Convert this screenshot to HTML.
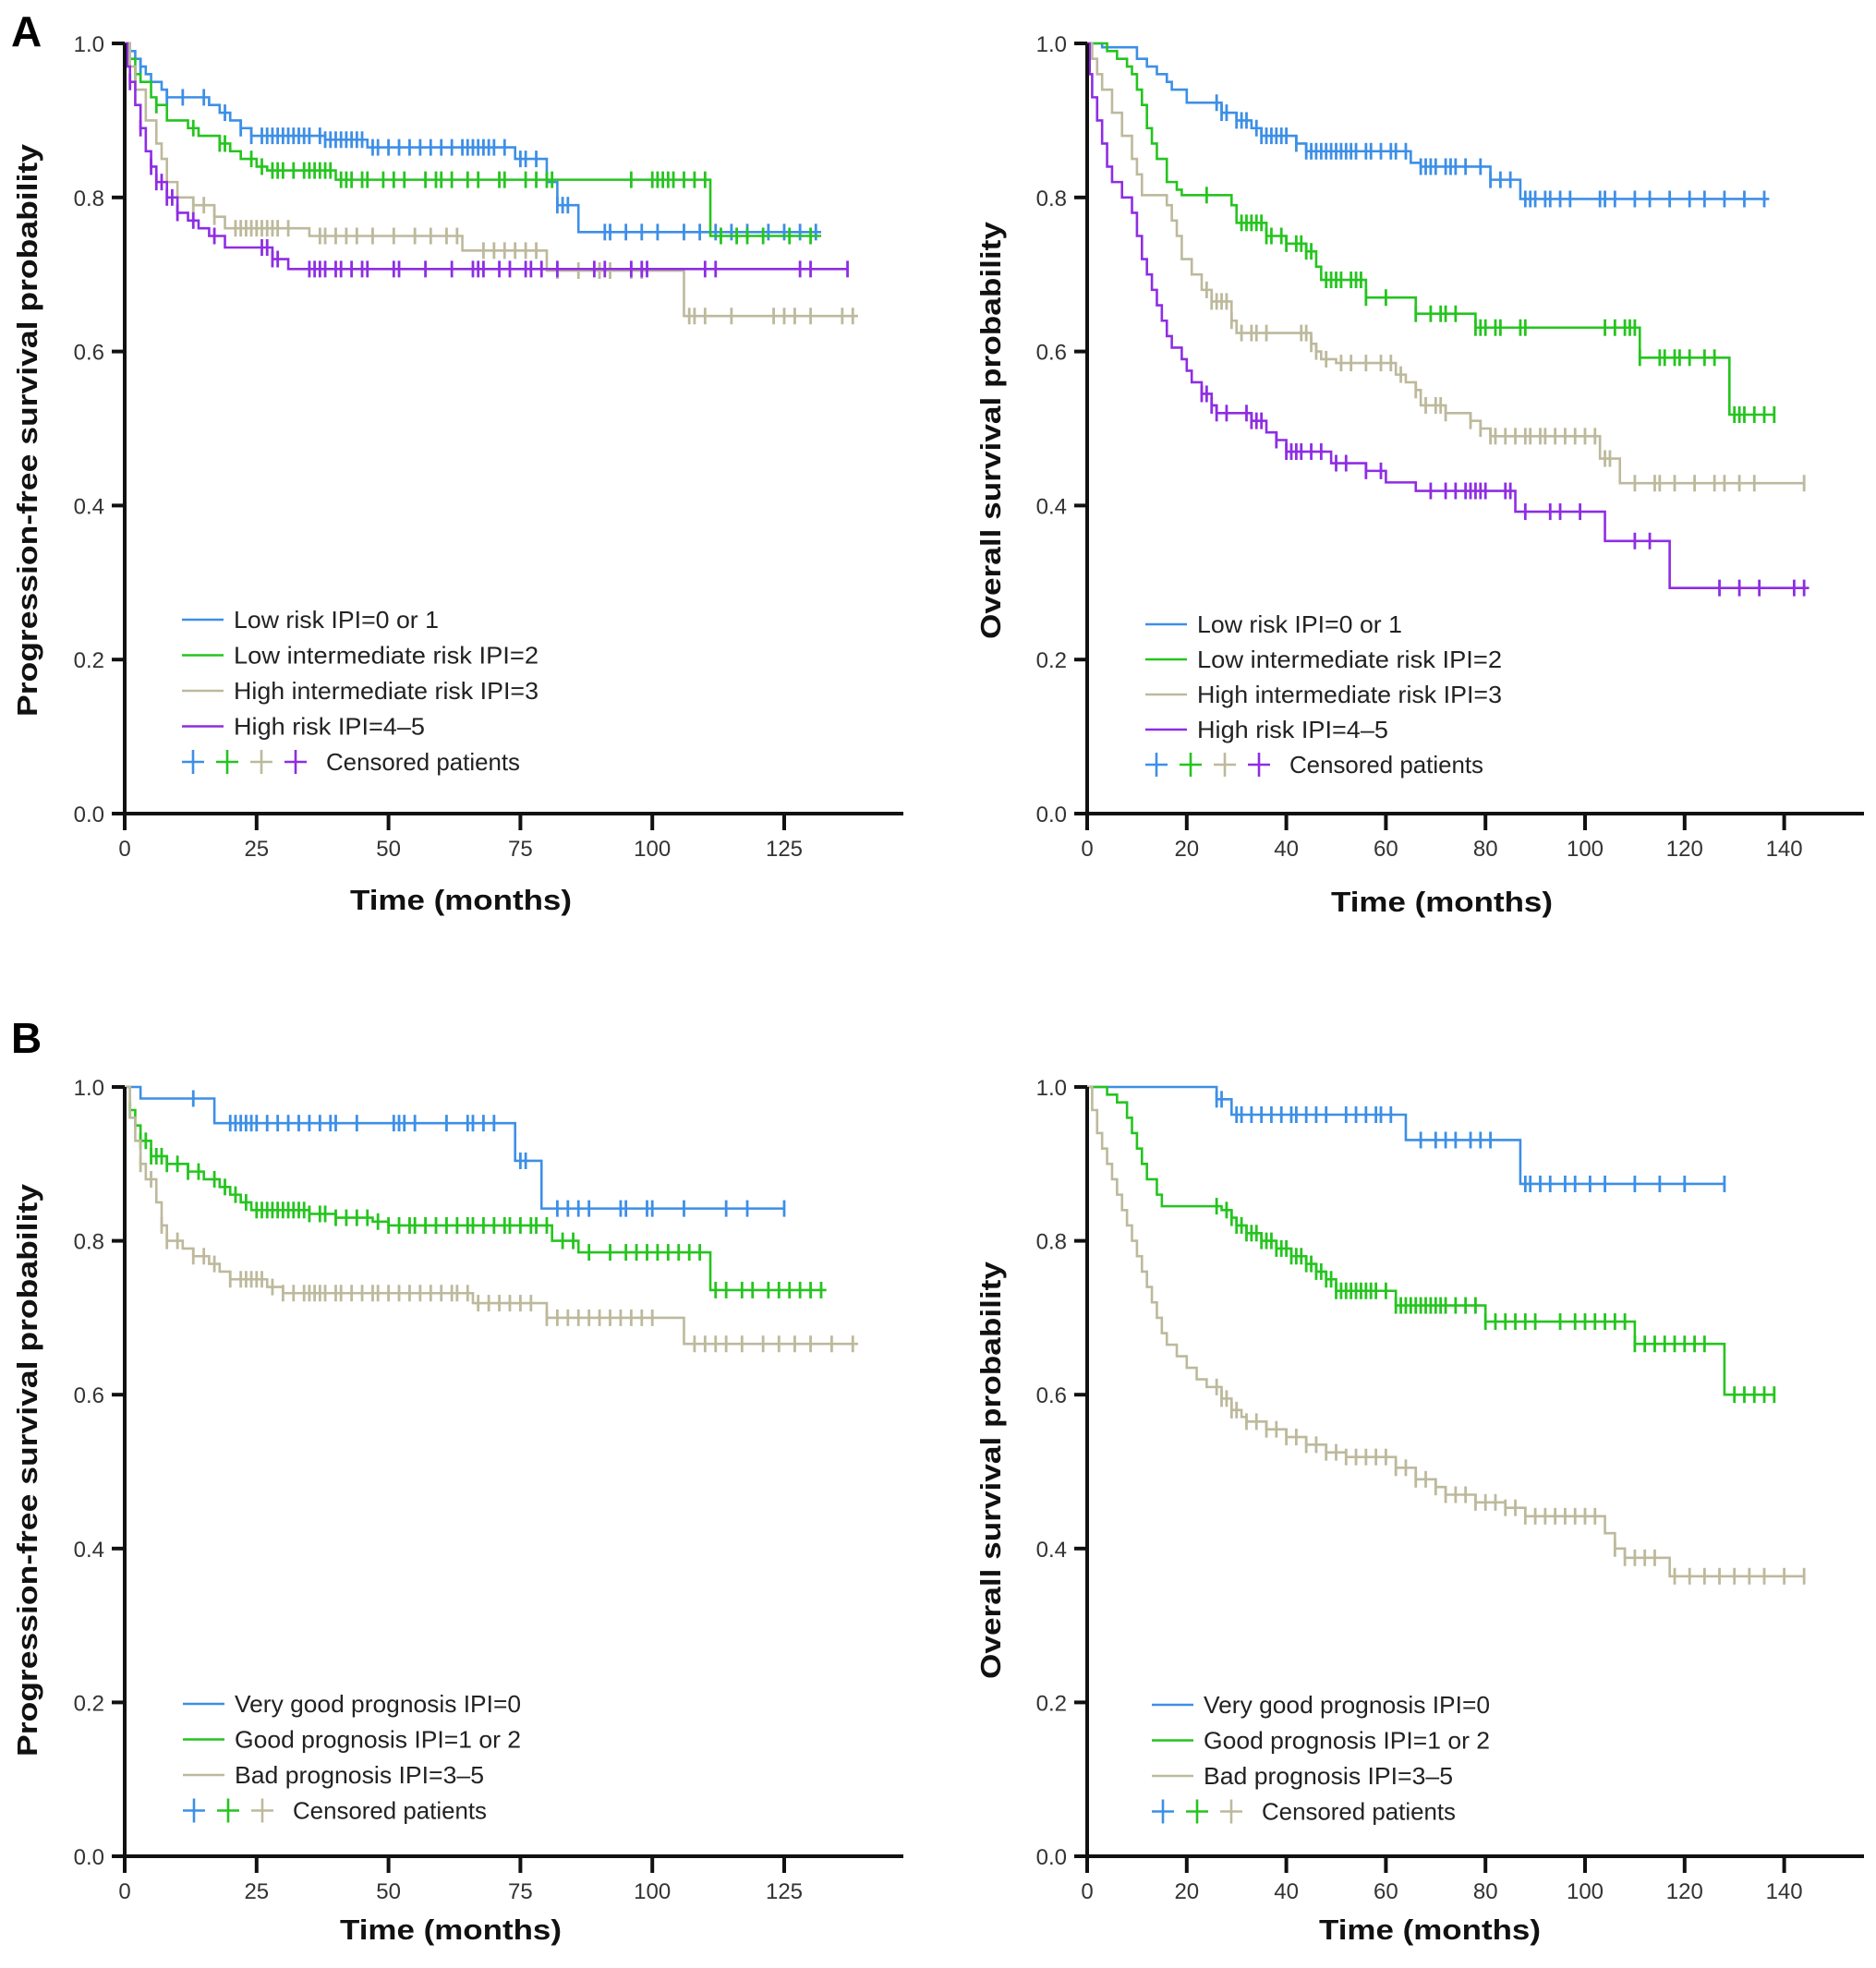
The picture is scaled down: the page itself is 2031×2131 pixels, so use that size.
<!DOCTYPE html>
<html><head><meta charset="utf-8"><style>
html,body{margin:0;padding:0;background:#fff}
svg{display:block}
text{font-family:"Liberation Sans",sans-serif}
.tk{font-size:24px;fill:#333}
.ttl{font-size:31px;font-weight:bold;fill:#111}
.lg{font-size:26px;fill:#222}
.pl{font-size:46px;font-weight:bold;fill:#000}
</style></head><body>
<svg id="fig" width="2031" height="2131" viewBox="0 0 2031 2131">
<text class="pl" x="12" y="50">A</text>
<text class="pl" x="12" y="1140">B</text>
</svg>
<script>
// ---------- data: [time(months), survival] step points ----------
const aPfsLow=[[0,1],[1,0.99],[2,0.98],[3,0.97],[4,0.96],[5,0.95],[7,0.94],[8,0.93],[16,0.92],[18,0.91],[20,0.9],[22,0.89],[24,0.88],[38,0.875],[46,0.865],[74,0.85],[80,0.82],[82,0.79],[86,0.755]];
const aPfsLowEnd=132;
const aPfsLowCens=[3,8,11,15,19,22,24,26,27,28,29,30,31,32,33,34,35,37,38,39,40,41,42,43,44,45,47,48,50,52,54,56,58,60,62,64,65,66,67,68,69,70,72,75,76,78,82,83,84,91,92,95,98,101,106,109,112,115,118,122,125,128,131];
const aPfsLint=[[0,1],[1,0.98],[2,0.96],[3,0.95],[5,0.93],[6,0.92],[8,0.9],[12,0.89],[14,0.88],[18,0.87],[20,0.86],[22,0.85],[25,0.84],[27,0.835],[40,0.823],[111,0.75]];
const aPfsLintEnd=132;
const aPfsLintCens=[2,6,13,18,19,24,26,28,29,30,32,34,35,36,37,38,39,41,42,43,45,46,49,51,53,57,59,60,62,65,67,71,72,76,78,80,81,96,100,101,102,103,104,106,108,110,113,116,118,121,126,130];
const aPfsHint=[[0,1],[1,0.97],[2,0.94],[4,0.9],[6,0.87],[7,0.85],[8,0.82],[10,0.8],[13,0.79],[17,0.775],[19,0.76],[35,0.75],[64,0.731],[80,0.705],[106,0.646]];
const aPfsHintEnd=139;
const aPfsHintCens=[13,15,17,21,22,23,24,25,26,27,28,29,31,37,38,40,42,44,47,51,55,58,61,63,68,70,72,74,76,78,82,86,90,92,96,98,107,108,110,115,123,125,127,130,136,138];
const aPfsHigh=[[0,1],[0.5,0.97],[1,0.95],[2,0.92],[3,0.89],[4,0.86],[5,0.84],[6,0.82],[8,0.8],[10,0.78],[12,0.77],[14,0.76],[16,0.75],[19,0.735],[28,0.72],[31,0.707]];
const aPfsHighEnd=137;
const aPfsHighCens=[1,3,5,6,7,8,9,10,13,17,26,27,28,29,35,36,37,38,40,41,43,45,46,51,52,57,62,66,67,68,71,73,76,77,79,82,89,91,96,98,99,110,112,128,130,137];

const aOsLow=[[0,1],[3,0.995],[10,0.98],[12,0.97],[14,0.96],[16,0.95],[17,0.94],[20,0.923],[27,0.91],[30,0.9],[33,0.89],[35,0.88],[42,0.87],[44,0.86],[65,0.845],[67,0.84],[81,0.823],[87,0.798]];
const aOsLowEnd=137;
const aOsLowCens=[26,27,28,30,31,32,34,35,36,37,38,39,40,42,44,45,46,47,48,49,50,51,52,53,54,56,57,59,61,62,64,67,68,69,70,72,73,74,76,79,81,83,85,88,89,90,92,93,95,97,103,104,106,110,113,117,121,124,128,132,136];
const aOsLint=[[0,1],[4,0.99],[6,0.98],[8,0.97],[9,0.96],[10,0.94],[11,0.92],[12,0.89],[13,0.87],[14,0.85],[16,0.82],[18,0.81],[19,0.803],[29,0.79],[30,0.767],[36,0.75],[40,0.74],[44,0.73],[46,0.71],[47,0.693],[56,0.67],[66,0.649],[78,0.631],[111,0.592],[129,0.518]];
const aOsLintEnd=138;
const aOsLintCens=[24,31,32,33,34,35,36,37,39,40,42,43,44,45,48,49,50,51,53,54,55,56,60,66,69,71,72,74,78,79,80,82,83,87,88,104,106,108,109,110,111,115,116,118,119,121,124,126,130,131,132,134,136,138];
const aOsHint=[[0,1],[1,0.98],[2,0.96],[3,0.94],[5,0.91],[7,0.88],[9,0.85],[10,0.83],[11,0.803],[16,0.79],[17,0.77],[18,0.75],[19,0.72],[21,0.7],[23,0.68],[25,0.665],[29,0.64],[30,0.624],[45,0.61],[46,0.6],[47,0.59],[50,0.585],[62,0.57],[64,0.56],[66,0.55],[67,0.53],[72,0.52],[77,0.51],[79,0.5],[81,0.49],[103,0.461],[107,0.429]];
const aOsHintEnd=144;
const aOsHintCens=[24,25,26,27,28,29,31,33,34,36,43,44,45,46,48,51,53,56,59,61,63,66,68,70,71,72,77,79,81,82,84,86,88,89,91,92,94,96,98,100,102,104,105,110,114,115,118,122,126,128,131,134,144];
const aOsHigh=[[0,1],[0.5,0.96],[1,0.93],[2,0.9],[3,0.87],[4,0.84],[5,0.82],[7,0.8],[9,0.78],[10,0.75],[11,0.72],[12,0.7],[13,0.68],[14,0.66],[15,0.64],[16,0.62],[17,0.605],[19,0.59],[20,0.575],[21,0.56],[23,0.545],[25,0.53],[26,0.52],[33,0.51],[36,0.495],[38,0.485],[40,0.47],[49,0.455],[56,0.445],[60,0.43],[66,0.419],[86,0.392],[104,0.354],[117,0.293]];
const aOsHighEnd=145;
const aOsHighCens=[23,24,25,26,28,32,33,34,35,38,40,41,42,43,45,47,50,52,56,59,69,72,74,76,77,78,79,80,84,85,88,93,95,99,110,113,127,131,135,142,144];

const bPfsVg=[[0,1],[3,0.985],[17,0.953],[74,0.904],[79,0.842]];
const bPfsVgEnd=125;
const bPfsVgCens=[13,20,21,22,23,24,25,27,29,31,33,35,37,39,40,44,51,52,53,55,61,65,66,68,70,75,76,82,84,86,88,94,95,99,100,106,114,118,125];
const bPfsG=[[0,1],[1,0.97],[2,0.95],[3,0.93],[5,0.91],[8,0.9],[12,0.89],[15,0.88],[18,0.87],[20,0.86],[22,0.85],[24,0.84],[35,0.835],[40,0.83],[47,0.825],[50,0.82],[81,0.8],[86,0.785],[111,0.736]];
const bPfsGEnd=133;
const bPfsGCens=[1,3,4,5,6,7,8,10,12,14,17,19,21,23,25,26,27,28,29,30,31,32,33,34,35,37,38,40,42,44,46,48,50,52,54,55,57,59,61,63,65,66,68,70,72,73,75,77,78,80,83,85,88,92,95,97,99,101,103,105,107,109,112,114,117,119,122,124,126,128,130,132];
const bPfsB=[[0,1],[1,0.96],[2,0.93],[3,0.9],[4,0.88],[6,0.85],[7,0.82],[8,0.8],[11,0.79],[13,0.78],[16,0.77],[18,0.76],[20,0.75],[27,0.74],[30,0.732],[66,0.719],[80,0.7],[106,0.666]];
const bPfsBEnd=139;
const bPfsBCens=[3,5,7,8,10,13,15,17,20,22,23,24,25,26,28,30,32,34,35,36,37,38,40,41,43,45,47,48,50,52,54,56,58,60,62,63,65,67,69,71,73,75,77,80,82,84,86,88,90,92,94,96,98,100,108,110,112,114,117,121,124,127,130,134,138];

const bOsVg=[[0,1],[26,0.984],[29,0.964],[64,0.931],[87,0.874]];
const bOsVgEnd=128;
const bOsVgCens=[26,27,30,31,33,35,37,39,41,42,44,46,48,52,54,56,58,59,61,67,70,72,74,77,79,81,88,89,91,93,96,98,101,104,110,115,120,128];
const bOsG=[[0,1],[4,0.99],[6,0.98],[8,0.96],[9,0.94],[10,0.92],[11,0.9],[12,0.88],[14,0.86],[15,0.845],[27,0.84],[29,0.83],[30,0.82],[32,0.81],[35,0.8],[38,0.79],[41,0.78],[44,0.77],[46,0.76],[48,0.75],[50,0.735],[62,0.716],[80,0.695],[110,0.666],[128,0.6]];
const bOsGEnd=138;
const bOsGCens=[26,28,29,30,31,32,33,34,35,36,37,38,39,40,41,42,43,44,45,46,47,48,49,50,51,52,53,54,55,56,57,58,60,62,63,64,65,66,67,68,69,70,71,72,74,76,78,80,82,84,86,88,90,95,98,100,102,104,106,108,110,112,114,116,118,120,122,124,130,132,134,136,138];
const bOsB=[[0,1],[1,0.97],[2,0.94],[3,0.92],[4,0.9],[5,0.88],[6,0.86],[7,0.84],[8,0.82],[9,0.8],[10,0.78],[11,0.76],[12,0.74],[13,0.72],[14,0.7],[15,0.68],[16,0.665],[18,0.65],[20,0.635],[22,0.62],[24,0.61],[27,0.595],[29,0.58],[31,0.571],[32,0.565],[36,0.555],[40,0.545],[44,0.535],[48,0.525],[52,0.519],[62,0.505],[66,0.49],[70,0.48],[72,0.47],[78,0.46],[84,0.453],[88,0.442],[104,0.42],[106,0.4],[108,0.388],[117,0.364]];
const bOsBEnd=144;
const bOsBCens=[26,27,28,29,30,32,34,36,38,40,42,44,46,48,50,52,54,56,58,60,62,64,66,68,70,72,74,76,78,80,82,84,86,88,90,92,94,96,98,100,102,106,108,110,112,114,118,121,124,127,130,133,136,140,144];

const yTickVals=[0,0.2,0.4,0.6,0.8,1.0];
const yTickLabels=["0.0","0.2","0.4","0.6","0.8","1.0"];
const xTicksPfs=[0,25,50,75,100,125];
const xTicksOs=[0,20,40,60,80,100,120,140];

const legA=["Low risk IPI=0 or 1","Low intermediate risk IPI=2","High intermediate risk IPI=3","High risk IPI=4\u20135"];
const legB=["Very good prognosis IPI=0","Good prognosis IPI=1 or 2","Bad prognosis IPI=3\u20135"];

const C_BLUE="#3d8fe6",C_GREEN="#25c41f",C_BEIGE="#bdb99c",C_PURPLE="#8e2de3";
// ---------- drawing ----------
const NS="http://www.w3.org/2000/svg";
const svg=document.getElementById('fig');
function mk(tag,attrs,parent){const e=document.createElementNS(NS,tag);for(const k in attrs)e.setAttribute(k,attrs[k]);(parent||svg).appendChild(e);return e;}

function panel(p){
  const g=mk('g',{});
  
  
  const xs=t=>p.x0+t*p.sx;
  const ys=v=>p.y0-v*(p.y0-p.y1);
  p.series.forEach(s=>{
    let d="M"+xs(s.pts[0][0])+","+ys(s.pts[0][1]);
    for(let i=1;i<s.pts.length;i++){d+=" H"+xs(s.pts[i][0])+" V"+ys(s.pts[i][1]);}
    d+=" H"+xs(s.end);
    const path=mk('path',{d:d,fill:"none",stroke:s.color,"stroke-width":2.6},g);
    
    
    const cg=mk('g',{stroke:s.color,"stroke-width":2.8},g);
    
    
    s.cens.forEach(t=>{
      let v=s.pts[0][1];
      for(const q of s.pts){if(q[0]<=t)v=q[1];}
      const x=xs(t),y=ys(v);
      mk('line',{x1:x,x2:x,y1:y-9,y2:y+9},cg);
    });
  });
  const ax=mk('g',{stroke:"#111","stroke-width":4},g);
  
  
  mk('line',{x1:p.x0,x2:p.x0,y1:p.y1,y2:p.y0+2},ax);
  mk('line',{x1:p.x0-14,x2:p.xEnd,y1:p.y0,y2:p.y0},ax);
  yTickVals.forEach((v,i)=>{
    mk('line',{x1:p.x0-14,x2:p.x0,y1:ys(v),y2:ys(v)},ax);
    const t=mk('text',{class:"tk",x:p.x0-22,y:ys(v)+9,"text-anchor":"end"},g);
    t.textContent=yTickLabels[i];
    
    
  });
  p.xt.forEach(v=>{
    mk('line',{x1:xs(v),x2:xs(v),y1:p.y0,y2:p.y0+18},ax);
    const t=mk('text',{class:"tk",x:xs(v),y:p.y0+46,"text-anchor":"middle"},g);
    t.textContent=String(v);
    
    
  });
  const xt=mk('text',{class:"ttl",x:p.xtX,y:p.xtY,"text-anchor":"middle",textLength:240,lengthAdjust:"spacingAndGlyphs"},g);
  xt.textContent="Time (months)";
  
  
  const yt=mk('text',{class:"ttl",x:0,y:0,"text-anchor":"middle",textLength:p.ytLen,lengthAdjust:"spacingAndGlyphs",transform:"translate("+p.ytX+","+p.ytY+") rotate(-90)"},g);
  yt.textContent=p.ytitle;
  
  
  const lg=mk('g',{},g);
  
  
  p.series.forEach((s,i)=>{
    const y=p.lgY+i*p.lgDy;
    mk('line',{x1:p.lgX,x2:p.lgX+45,y1:y,y2:y,stroke:s.color,"stroke-width":2.6},lg);
    const t=mk('text',{class:"lg",x:p.lgX+56,y:y+9,textLength:p.lgW[i],lengthAdjust:"spacingAndGlyphs"},lg);
    t.textContent=p.labels[i];
    
    
  });
  const cy=p.lgY+p.series.length*p.lgDy;
  p.series.forEach((s,i)=>{
    const cx=p.lgX+12+i*37;
    mk('line',{x1:cx-12,x2:cx+12,y1:cy,y2:cy,stroke:s.color,"stroke-width":2.6},lg);
    mk('line',{x1:cx,x2:cx,y1:cy-13,y2:cy+13,stroke:s.color,"stroke-width":2.6},lg);
  });
  const ct=mk('text',{class:"lg",x:p.lgX+12+p.series.length*37-4,y:cy+9,textLength:210,lengthAdjust:"spacingAndGlyphs"},lg);
  ct.textContent="Censored patients";
  
  
}

const serA=(low,le,lc,li,lie,lic,hi,hie,hic,h,he,hc)=>[
 {name:"low-risk",color:C_BLUE,pts:low,end:le,cens:lc},
 {name:"low-intermediate-risk",color:C_GREEN,pts:li,end:lie,cens:lic},
 {name:"high-intermediate-risk",color:C_BEIGE,pts:hi,end:hie,cens:hic},
 {name:"high-risk",color:C_PURPLE,pts:h,end:he,cens:hc}];
const serB=(a,ae,ac,b,be,bc,c,ce,cc)=>[
 {name:"very-good-prognosis",color:C_BLUE,pts:a,end:ae,cens:ac},
 {name:"good-prognosis",color:C_GREEN,pts:b,end:be,cens:bc},
 {name:"bad-prognosis",color:C_BEIGE,pts:c,end:ce,cens:cc}];

panel({name:"panel-a-pfs",x0:135,sx:5.712,y0:881,y1:47,xEnd:978,xt:xTicksPfs,xtX:499,xtY:985,ytX:40,ytY:466,ytLen:620,ytitle:"Progression-free survival probability",
 lgX:197,lgY:671,lgDy:38.5,labels:legA,lgW:[222,330,330,207],
 series:serA(aPfsLow,aPfsLowEnd,aPfsLowCens,aPfsLint,aPfsLintEnd,aPfsLintCens,aPfsHint,aPfsHintEnd,aPfsHintCens,aPfsHigh,aPfsHighEnd,aPfsHighCens)});
panel({name:"panel-a-os",x0:1177,sx:5.39,y0:881,y1:47,xEnd:2018,xt:xTicksOs,xtX:1561,xtY:987,ytX:1083,ytY:466,ytLen:452,ytitle:"Overall survival probability",
 lgX:1240,lgY:676,lgDy:38,labels:legA,lgW:[222,330,330,207],
 series:serA(aOsLow,aOsLowEnd,aOsLowCens,aOsLint,aOsLintEnd,aOsLintCens,aOsHint,aOsHintEnd,aOsHintCens,aOsHigh,aOsHighEnd,aOsHighCens)});
panel({name:"panel-b-pfs",x0:135,sx:5.712,y0:2010,y1:1177,xEnd:978,xt:xTicksPfs,xtX:488,xtY:2100,ytX:40,ytY:1592,ytLen:620,ytitle:"Progression-free survival probability",
 lgX:198,lgY:1845,lgDy:38.5,labels:legB,lgW:[310,310,270],
 series:serB(bPfsVg,bPfsVgEnd,bPfsVgCens,bPfsG,bPfsGEnd,bPfsGCens,bPfsB,bPfsBEnd,bPfsBCens)});
panel({name:"panel-b-os",x0:1177,sx:5.39,y0:2010,y1:1177,xEnd:2018,xt:xTicksOs,xtX:1548,xtY:2100,ytX:1083,ytY:1592,ytLen:452,ytitle:"Overall survival probability",
 lgX:1247,lgY:1846,lgDy:38.5,labels:legB,lgW:[310,310,270],
 series:serB(bOsVg,bOsVgEnd,bOsVgCens,bOsG,bOsGEnd,bOsGCens,bOsB,bOsBEnd,bOsBCens)});
</script>
</body></html>
